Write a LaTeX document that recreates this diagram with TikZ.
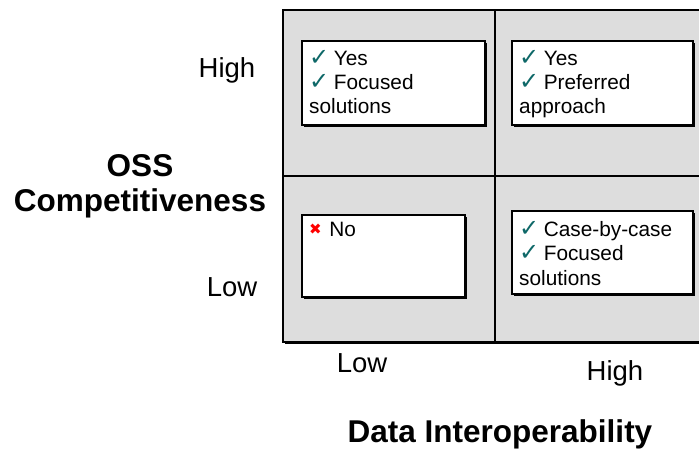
\documentclass[tikz,border=0pt]{standalone}
\usepackage{fontspec}
\setmainfont{Liberation Sans}
\newfontfamily\symbolfont{DejaVu Sans}
\usetikzlibrary{shadows,positioning}
\definecolor{tickgreen}{RGB}{14,104,104}
\definecolor{cellgray}{RGB}{221,221,221}
\newcommand{\tickmark}{\leavevmode{\fontsize{24}{24}\symbolfont\bfseries\color{tickgreen}\raisebox{0.5pt}{✓}}\hspace{4.5pt}}
\newcommand{\crossmark}{\leavevmode{\fontsize{15}{15}\symbolfont\color{red}\raisebox{2pt}{✖}}\hspace{7.5pt}}

\begin{document}
\begin{tikzpicture}[x=1pt,y=-1pt]
  \useasboundingbox (0,0) rectangle (699,449);
  \clip (0,0) rectangle (699,449);

  \coordinate (GridNW) at (283,10);
  \coordinate (GridSE) at (707,342);
  \coordinate (GridTop) at (495,10);
  \coordinate (GridBottom) at (495,342);
  \coordinate (GridLeft) at (283,176);
  \coordinate (GridRight) at (707,176);

  \coordinate (HighLow) at (301,40);
  \coordinate (HighHigh) at (511,40);
  \coordinate (LowLow) at (301,214);
  \coordinate (LowHigh) at (511,210);

  \tikzstyle{cellbox}=[draw=black,line width=1.8pt,
                       shape=rectangle,fill=white,
                       anchor=north west,inner sep=0pt,
                       drop shadow={shadow xshift=2pt,shadow yshift=-2pt,
                                    fill=black,opacity=1}];
  \tikzstyle{celltext}=[anchor=base west,inner sep=0pt,
                        font=\fontsize{20.8}{24}\selectfont];
  \tikzstyle{axislabel}=[anchor=base,inner sep=0pt,
                         font=\fontsize{27.5}{30}\selectfont];
  \tikzstyle{axistitle}=[anchor=base,inner sep=0pt,
                         font=\bfseries\fontsize{31.5}{35}\selectfont];

  % the four quadrants
  \draw[line width=2pt,fill=cellgray,
        drop shadow={shadow xshift=1.5pt,shadow yshift=-1.5pt,
                     fill=black,opacity=1}] (GridNW) rectangle (GridSE);
  \draw[line width=2pt] (GridTop) -- (GridBottom);
  \draw[line width=2pt] (GridLeft) -- (GridRight);

  \node[cellbox,minimum width=183pt,minimum height=84pt] (HighLowBox) at (HighLow) {};
  \node[celltext] (HighLowText) at (309,66)
       {\parbox[t]{172pt}{\tickmark Yes\\ \tickmark Focused\\ solutions}};

  \node[cellbox,minimum width=181pt,minimum height=84pt] (HighHighBox) at (HighHigh) {};
  \node[celltext] (HighHighText) at (519,66)
       {\parbox[t]{170pt}{\tickmark Yes\\ \tickmark Preferred\\ approach}};

  \node[cellbox,minimum width=163pt,minimum height=82pt] (LowLowBox) at (LowLow) {};
  \node[celltext] (LowLowText) at (309,237)
       {\parbox[t]{150pt}{\crossmark No}};

  \node[cellbox,minimum width=181pt,minimum height=83pt] (LowHighBox) at (LowHigh) {};
  \node[celltext] (LowHighText) at (519,237)
       {\parbox[t]{170pt}{\tickmark Case-by-case\\ \tickmark Focused\\ solutions}};

  % axis labels
  \node[axislabel] (YHigh) at (227,78) {High};
  \node[axislabel] (YLow) at (232,297) {Low};
  \node[axislabel] (XLow) at (362,372) {Low};
  \node[axislabel] (XHigh) at (615,380) {High};

  \node[axistitle] (YTitle) at (140,177)
       {\parbox[t]{300pt}{\centering OSS\\ Competitiveness}};
  \node[axistitle] (XTitle) at (500,442) {Data Interoperability};

\end{tikzpicture}
\end{document}
